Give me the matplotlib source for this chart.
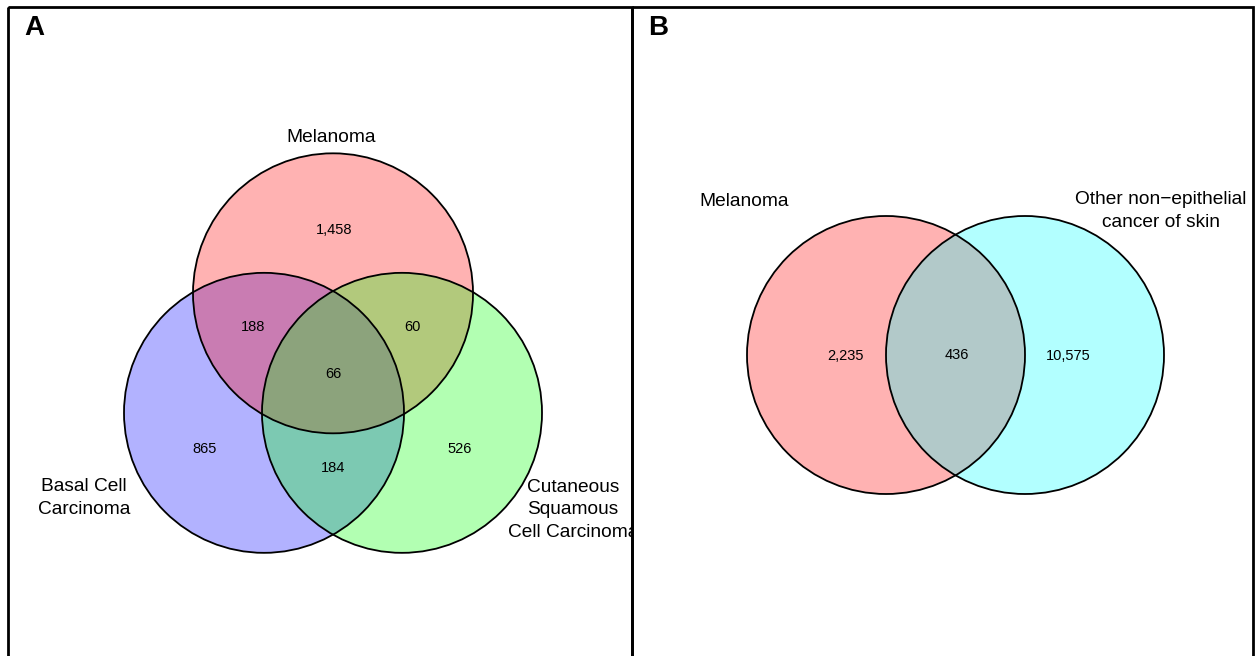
import numpy as np
import matplotlib
matplotlib.use("Agg")
import matplotlib.pyplot as plt
from matplotlib.patches import Circle, Rectangle

plt.rcParams['font.family'] = ['Liberation Sans', 'DejaVu Sans']

# Panel A: three-set overlap
sets_a = ["Melanoma", "Basal Cell\nCarcinoma", "Cutaneous\nSquamous\nCell Carcinoma"]
colors_a = ["red", "blue", "lime"]
# region counts: only M, M&B, M&C, M&B&C, only B, B&C, only C
regions_a = ["M", "MB", "MC", "MBC", "B", "BC", "C"]
counts_a = [1458, 188, 60, 66, 865, 184, 526]

# Panel B: two-set overlap
sets_b = ["Melanoma", "Other non\u2212epithelial\ncancer of skin"]
colors_b = ["red", "cyan"]
regions_b = ["M", "MO", "O"]
counts_b = [2235, 436, 10575]

W, H = 1255, 656
fig = plt.figure(figsize=(W / 100, H / 100), dpi=100)
ax = fig.add_axes([0, 0, 1, 1])
ax.set_xlim(0, W)
ax.set_ylim(H, 0)
ax.axis("off")

LABEL_FS = 13.8
COUNT_FS = 10.5
LINESP = 1.42

# panel frames
ax.add_patch(Rectangle((8, 7), 624, 660, fill=False, lw=2, ec="black"))
ax.add_patch(Rectangle((632, 7), 621, 660, fill=False, lw=2, ec="black"))
clip_a = Rectangle((8, 0), 624, H, transform=ax.transData)

ax.text(24, 28, "A", fontsize=20, fontweight="bold", va="center", ha="left")
ax.text(648, 28, "B", fontsize=20, fontweight="bold", va="center", ha="left")

# ---- Panel A geometry ----
r_a = 140
side = 138
cx, cy = 333, 373
h = side / np.sqrt(3)
centers_a = {
    "M": (cx, cy - h),
    "B": (cx - side / 2, cy + h / 2),
    "C": (cx + side / 2, cy + h / 2),
}
order_a = ["B", "M", "C"]
col_map_a = dict(zip(["M", "B", "C"], colors_a))
for key in order_a:
    ax.add_patch(Circle(centers_a[key], r_a, fc=col_map_a[key], alpha=0.3, ec="none"))
for key in order_a:
    ax.add_patch(Circle(centers_a[key], r_a, fill=False, ec="black", lw=1.3))

label_pos_a = {
    "M": (cx + 1, cy - 143),
    "MB": (cx - 80, cy - 46),
    "MC": (cx + 79, cy - 46),
    "MBC": (cx, cy + 1),
    "B": (cx - 128, cy + 76),
    "BC": (cx, cy + 95),
    "C": (cx + 127, cy + 76),
}
for reg, n in zip(regions_a, counts_a):
    x, y = label_pos_a[reg]
    ax.text(x, y, f"{n:,}", fontsize=COUNT_FS, ha="center", va="center")

set_label_pos_a = [(331, 138), (84, 498), (573, 510)]
for name, (x, y) in zip(sets_a, set_label_pos_a):
    t = ax.text(x, y, name, fontsize=LABEL_FS, ha="center", va="center",
                linespacing=LINESP, clip_on=True)
    t.set_clip_path(clip_a)

# ---- Panel B geometry ----
r_b = 139
d_b = 139
bx, by = 955.5, 355
centers_b = {"M": (bx - d_b / 2, by), "O": (bx + d_b / 2, by)}
col_map_b = dict(zip(["M", "O"], colors_b))
for key in ["M", "O"]:
    ax.add_patch(Circle(centers_b[key], r_b, fc=col_map_b[key], alpha=0.3, ec="none"))
for key in ["M", "O"]:
    ax.add_patch(Circle(centers_b[key], r_b, fill=False, ec="black", lw=1.3))

label_pos_b = {"M": (bx - 110, by + 1), "MO": (bx + 1, by), "O": (bx + 113, by + 1)}
for reg, n in zip(regions_b, counts_b):
    x, y = label_pos_b[reg]
    ax.text(x, y, f"{n:,}", fontsize=COUNT_FS, ha="center", va="center")

set_label_pos_b = [(744, 201), (1161, 211)]
for name, (x, y) in zip(sets_b, set_label_pos_b):
    ax.text(x, y, name, fontsize=LABEL_FS, ha="center", va="center",
            linespacing=LINESP)

fig.savefig("out.png", dpi=100)
